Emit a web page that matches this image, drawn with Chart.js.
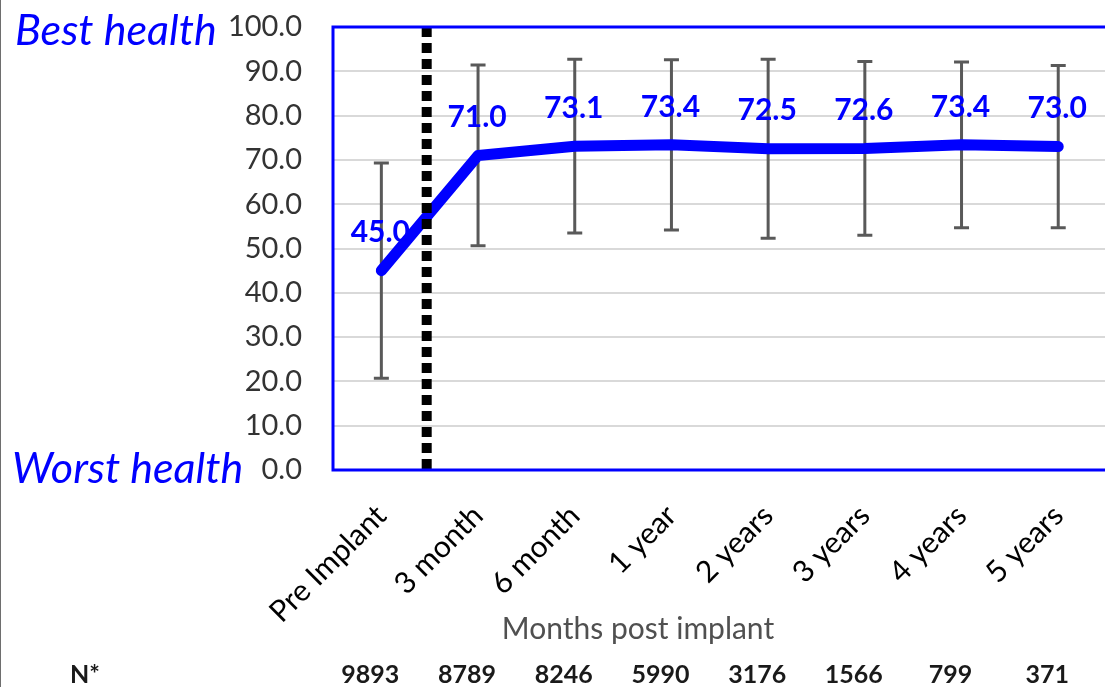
<!DOCTYPE html>
<html>
<head>
<meta charset="utf-8">
<script src="https://cdn.jsdelivr.net/npm/chart.js@4"></script>
<style>
  html, body { margin: 0; padding: 0; background: #fff; overflow: hidden; width: 1105px; height: 687px; }
  #wrap { position: relative; width: 1105px; height: 687px; overflow: hidden; }
  canvas { display: block; }
  #edge { position: absolute; left: 0; top: 0; width: 1px; height: 687px; background: #6e6e6e; }
</style>
</head>
<body>
<div id="wrap">
  <canvas id="c" width="1112" height="687"></canvas>
  <div id="edge"></div>
</div>
<script>
// Follow-up time points
const categories = ['Pre Implant', '3 month', '6 month', '1 year', '2 years', '3 years', '4 years', '5 years'];
// Mean EQ-VAS score at each time point
const meanScore = [45.0, 71.0, 73.1, 73.4, 72.5, 72.6, 73.4, 73.0];
// Standard deviation shown as error bars
const sdScore = [24.3, 20.4, 19.6, 19.2, 20.2, 19.6, 18.7, 18.3];
// Number of patients with a score at each time point
const patientsN = [9893, 8789, 8246, 5990, 3176, 1566, 799, 371];
// Value axis
const yMin = 0, yMax = 100, yStep = 10;

const FONT = 'Lato, "Open Sans", "DejaVu Sans", sans-serif';
const BLUE = '#0000ff';

const overlay = {
  id: 'overlay',
  beforeDatasetsDraw(chart) {
    // error bars (mean ± SD), drawn under the line
    const { ctx, scales: { x, y } } = chart;
    ctx.save();
    ctx.strokeStyle = '#595959';
    ctx.lineWidth = 3;
    const cap = 7.5;
    meanScore.forEach((m, i) => {
      const px = x.getPixelForValue(i);
      const top = y.getPixelForValue(m + sdScore[i]);
      const bot = y.getPixelForValue(m - sdScore[i]);
      ctx.beginPath();
      ctx.moveTo(px, top); ctx.lineTo(px, bot);
      ctx.moveTo(px - cap, top); ctx.lineTo(px + cap, top);
      ctx.moveTo(px - cap, bot); ctx.lineTo(px + cap, bot);
      ctx.stroke();
    });
    ctx.restore();
  },
  afterDatasetsDraw(chart) {
    const { ctx, chartArea, scales: { x, y } } = chart;
    ctx.save();
    // implant marker between baseline and first follow-up
    const ix = (x.getPixelForValue(0) + x.getPixelForValue(1)) / 2 - 3;
    ctx.strokeStyle = '#000';
    ctx.lineWidth = 10;
    ctx.setLineDash([10, 6]);
    ctx.beginPath();
    ctx.moveTo(ix, chartArea.top);
    ctx.lineTo(ix, chartArea.bottom);
    ctx.stroke();
    ctx.setLineDash([]);
    // value labels above each point
    ctx.fillStyle = BLUE;
    ctx.font = 'bold 30px ' + FONT;
    ctx.textAlign = 'center';
    ctx.textBaseline = 'middle';
    meanScore.forEach((m, i) => {
      ctx.fillText(m.toFixed(1), x.getPixelForValue(i) - 1, y.getPixelForValue(m) - 38);
    });
    ctx.restore();
  },
  afterDraw(chart) {
    const { ctx, chartArea, scales: { x } } = chart;
    ctx.save();
    // plot frame
    ctx.strokeStyle = BLUE;
    ctx.lineWidth = 3;
    ctx.strokeRect(chartArea.left, chartArea.top, chartArea.right - chartArea.left, chartArea.bottom - chartArea.top);
    // scale end captions
    ctx.fillStyle = BLUE;
    ctx.font = 'italic 43px ' + FONT;
    ctx.textAlign = 'left';
    ctx.textBaseline = 'alphabetic';
    ctx.fillText('Best health', 15, 45);
    ctx.fillText('Worst health', 12, 483);
    // axis caption
    ctx.fillStyle = '#505050';
    ctx.font = '30px ' + FONT;
    ctx.textAlign = 'center';
    ctx.textBaseline = 'middle';
    ctx.fillText('Months post implant', 638, 629);
    // patient counts row
    ctx.fillStyle = '#1a1a1a';
    ctx.font = 'bold 25px ' + FONT;
    ctx.fillText('N*', 85, 675);
    patientsN.forEach((n, i) => {
      ctx.fillText(String(n), x.getPixelForValue(i) - 11, 675);
    });
    ctx.restore();
  }
};

new Chart(document.getElementById('c'), {
  type: 'line',
  data: {
    labels: categories,
    datasets: [{
      data: meanScore,
      borderColor: BLUE,
      backgroundColor: BLUE,
      borderWidth: 11,
      borderCapStyle: 'round',
      borderJoinStyle: 'round',
      pointRadius: 0,
      tension: 0,
      fill: false
    }]
  },
  options: {
    responsive: false,
    devicePixelRatio: 1,
    animation: false,
    layout: { padding: { top: 27, right: 5, bottom: 40, left: 0 } },
    plugins: { legend: { display: false }, tooltip: { enabled: false } },
    scales: {
      x: {
        type: 'category',
        offset: true,
        grid: { display: false, drawTicks: false },
        border: { display: false },
        ticks: {
          autoSkip: false,
          minRotation: 45,
          maxRotation: 45,
          color: '#000',
          padding: 28,
          font: { family: FONT, size: 30 }
        },
        afterFit(s) { s.height = 177; }
      },
      y: {
        min: yMin,
        max: yMax,
        grid: { color: '#d9d9d9', lineWidth: 2, drawTicks: true, tickLength: 31, tickColor: 'rgba(0,0,0,0)' },
        border: { display: false },
        ticks: {
          stepSize: yStep,
          color: '#333',
          padding: 0,
          font: { family: FONT, size: 29 },
          callback: v => Number(v).toFixed(1)
        },
        afterFit(s) { s.width = 333; }
      }
    }
  },
  plugins: [overlay]
});
</script>
</body>
</html>
